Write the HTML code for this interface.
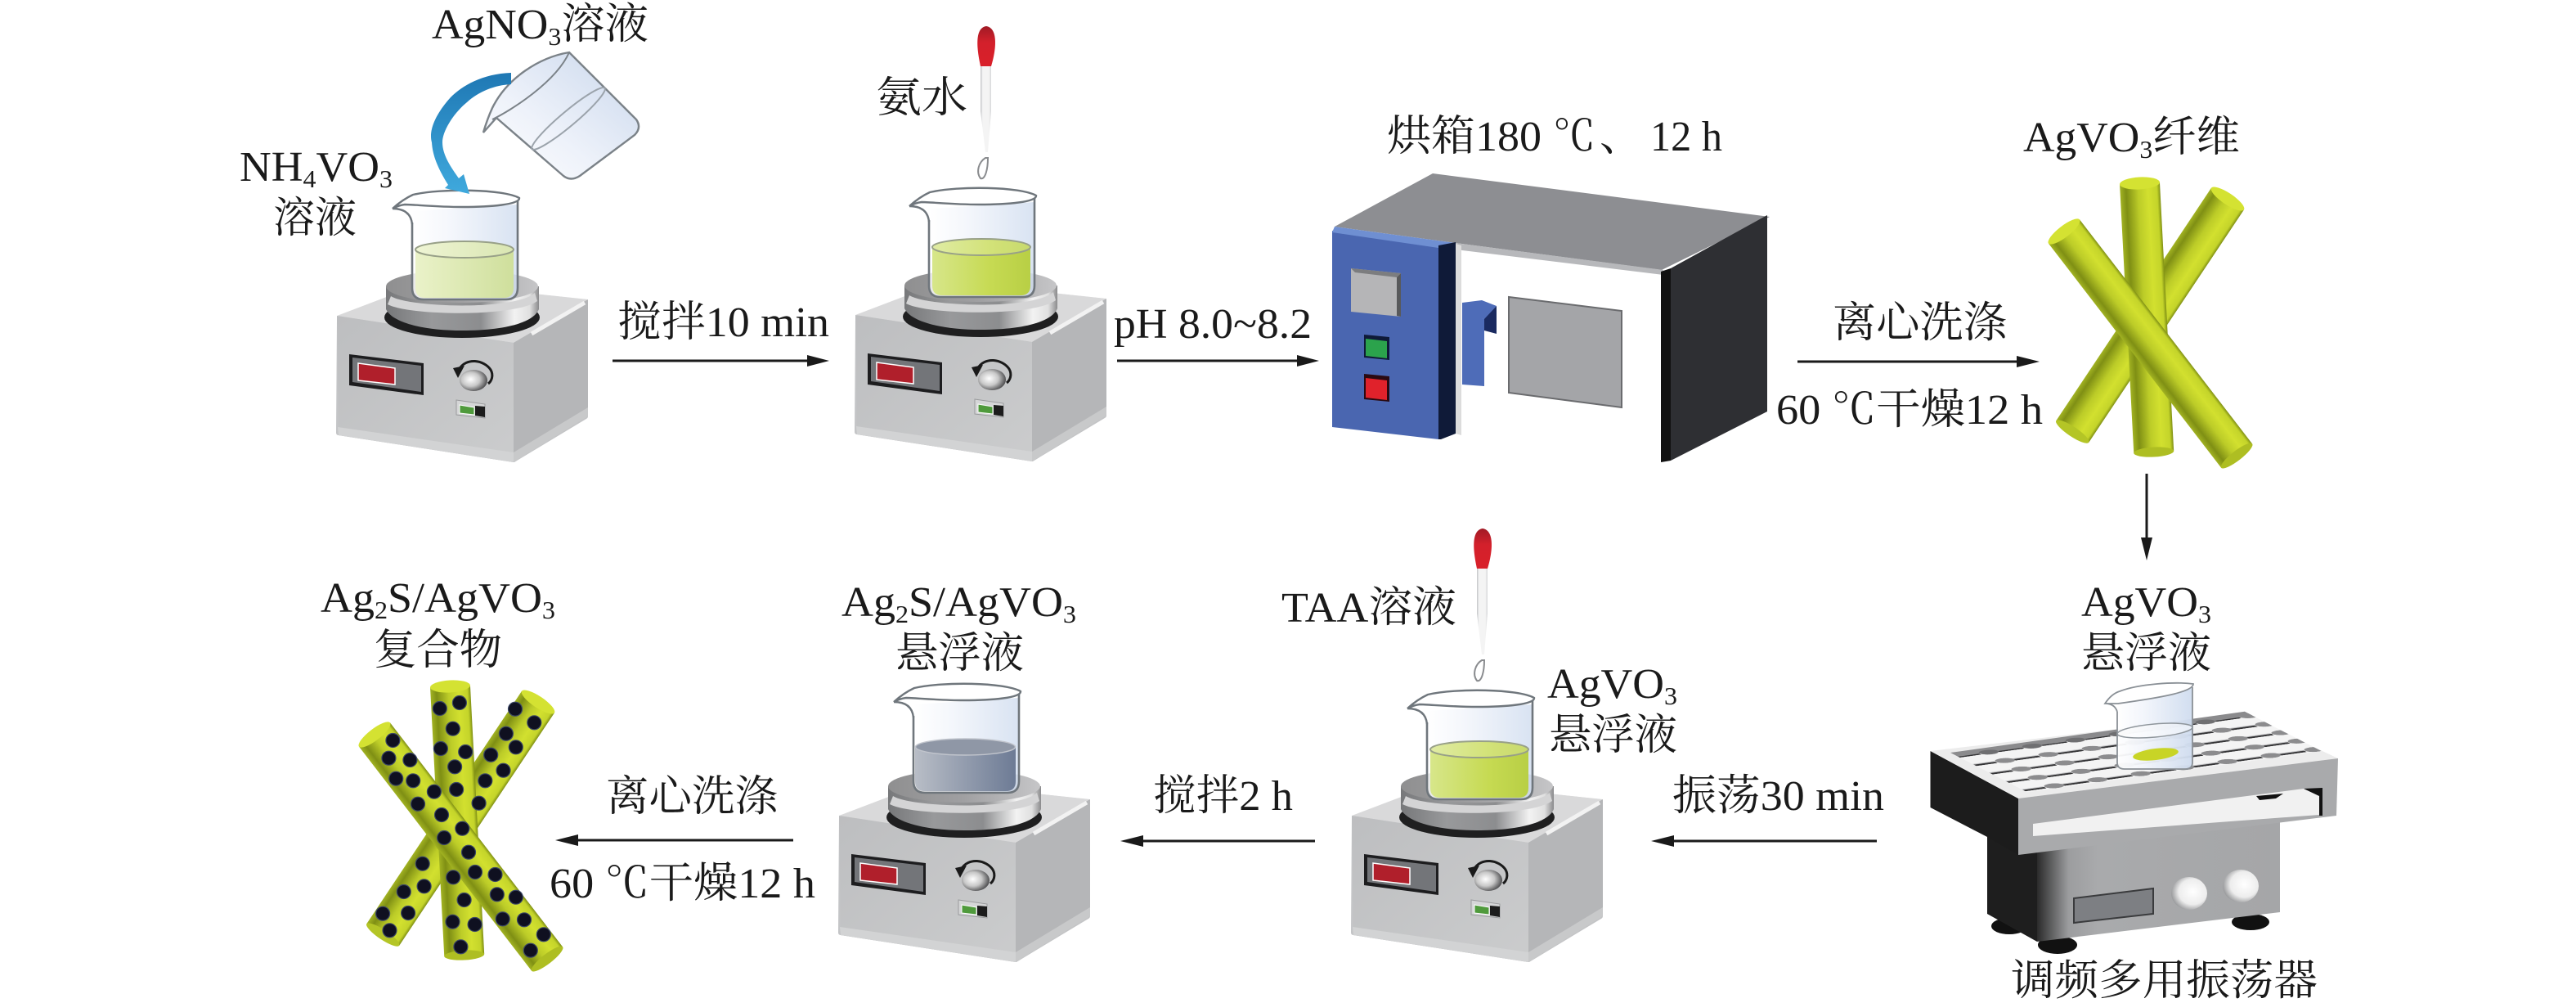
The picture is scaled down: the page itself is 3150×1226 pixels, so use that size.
<!DOCTYPE html>
<html><head><meta charset="utf-8"><style>
html,body{margin:0;padding:0;background:#fff}
svg{display:block}
text{font-family:"Liberation Serif","Noto Serif CJK SC",serif;font-size:52px;fill:#1a1a1a}
.s{font-size:31px}
</style></head><body>
<svg width="3150" height="1226" viewBox="0 0 3150 1226" xmlns="http://www.w3.org/2000/svg">
<defs>
<linearGradient id="glass" x1="0" x2="1" y1="0" y2="0"><stop offset="0" stop-color="#fff"/><stop offset=".35" stop-color="#f2f5fb"/><stop offset="1" stop-color="#cfdcef"/></linearGradient>
<linearGradient id="glass2" x1="0" x2="1" y1="1" y2="0"><stop offset="0" stop-color="#fff"/><stop offset=".4" stop-color="#eef2fa"/><stop offset="1" stop-color="#c9d7ec"/></linearGradient>
<linearGradient id="l1" x1="0" x2="1"><stop offset="0" stop-color="#eaf2c9"/><stop offset="1" stop-color="#cfdf9c"/></linearGradient>
<linearGradient id="l2" x1="0" x2="1"><stop offset="0" stop-color="#d7e68a"/><stop offset=".6" stop-color="#c6da52"/><stop offset="1" stop-color="#b8cf45"/></linearGradient>
<linearGradient id="l3" x1="0" x2="1"><stop offset="0" stop-color="#b8bdc6"/><stop offset="1" stop-color="#6d7b95"/></linearGradient>
<linearGradient id="side" x1="0" x2="1"><stop offset="0" stop-color="#77787a"/><stop offset=".3" stop-color="#98999b"/><stop offset=".62" stop-color="#8c8d8f"/><stop offset=".84" stop-color="#f2f2f2"/><stop offset=".94" stop-color="#e0e0e0"/><stop offset="1" stop-color="#8a8a8c"/></linearGradient>
<linearGradient id="ptop" x1="0" x2="1"><stop offset="0" stop-color="#8f8f90"/><stop offset=".5" stop-color="#a0a0a2"/><stop offset="1" stop-color="#c6c6c8"/></linearGradient>
<linearGradient id="lface" x1="0" x2="1" y1="0" y2="1"><stop offset="0" stop-color="#bdbec0"/><stop offset="1" stop-color="#cbcccd"/></linearGradient>
<radialGradient id="knob" cx=".4" cy=".45" r=".65"><stop offset="0" stop-color="#fff"/><stop offset=".5" stop-color="#c8c8c8"/><stop offset="1" stop-color="#3a3a3c"/></radialGradient>
<linearGradient id="blue" x1="0" x2="0" y1="0" y2="1"><stop offset="0" stop-color="#1f78b4"/><stop offset="1" stop-color="#3fa9dd"/></linearGradient>
<linearGradient id="rodg" x1="0" x2="1"><stop offset="0" stop-color="#a2b322"/><stop offset=".15" stop-color="#7f8f14"/><stop offset=".45" stop-color="#bccc28"/><stop offset=".7" stop-color="#d2e02f"/><stop offset=".92" stop-color="#c4d42a"/><stop offset="1" stop-color="#7f8f14"/></linearGradient>
<linearGradient id="bulb" x1="0" x2="0" y1="0" y2="1"><stop offset="0" stop-color="#a01a25"/><stop offset=".4" stop-color="#d3202b"/><stop offset="1" stop-color="#d9202a"/></linearGradient>
<linearGradient id="tube" x1="0" x2="1"><stop offset="0" stop-color="#c0c2c5"/><stop offset=".2" stop-color="#f4f4f4"/><stop offset=".8" stop-color="#f4f4f4"/><stop offset="1" stop-color="#d5d6d8"/></linearGradient>
<linearGradient id="body" x1="0" x2="1"><stop offset="0" stop-color="#2b2b2b"/><stop offset=".13" stop-color="#9c9d9f"/><stop offset=".25" stop-color="#a9aaac"/><stop offset="1" stop-color="#a5a6a8"/></linearGradient>
<radialGradient id="kn2" cx=".6" cy=".45" r=".6"><stop offset="0" stop-color="#fff"/><stop offset=".65" stop-color="#ededed"/><stop offset="1" stop-color="#9b9c9e"/></radialGradient>
<pattern id="well" x="0" y="0" width="14.2857" height="20" patternUnits="userSpaceOnUse">
<rect width="14.2857" height="20" fill="#f4f4f4"/>
<rect x="0" y="7" width="7" height="2" fill="#c2c2c4"/>
<rect x="13" y="7" width="1.3" height="2" fill="#c2c2c4"/>
<rect x="0" y="8.6" width="7" height="3" fill="#343436"/>
<rect x="13" y="8.6" width="1.3" height="3" fill="#343436"/>
<ellipse cx="10.2" cy="8.9" rx="3" ry="5" fill="#8c8c8e"/>
</pattern>

<g id="stirrer">
<polygon points="415,389 520,348 716,369 716,509 628,562 414,529" fill="#c4c5c7" stroke="#c4c5c7" stroke-width="6" stroke-linejoin="round"/>
<polygon points="412,386 520,345 719,366 628,419" fill="#d9d9da"/>
<polygon points="628,419 719,366 719,509 628,565" fill="#b5b6b8"/>
<polygon points="412,386 628,419 628,565 414,532" fill="url(#lface)"/>
<polygon points="413,522 628,553 628,565 414,532" fill="#d2d3d4"/>
<polygon points="628,553 719,498 719,509 628,565" fill="#c8c9ca"/>
<path d="M650,408 L715,370" stroke="#f2f2f2" stroke-width="5" fill="none"/>
<ellipse cx="565" cy="388" rx="95" ry="25" fill="#1f1f20"/>
<path d="M472,350 V378 C480,395 520,404 565,404 C615,404 652,395 659,378 V350 Z" fill="url(#side)"/>
<ellipse cx="565" cy="350" rx="93" ry="20" fill="url(#ptop)"/>
<path d="M478,362 C500,376 630,380 654,358 L657,368 C630,388 500,386 474,372 Z" fill="#d4d4d5"/>
<polygon points="427,433 518,444 518,483 427,471" fill="#1d1d1f"/>
<polygon points="431,437 515,447 515,479 431,467" fill="#737579"/>
<polygon points="438,444 483,450 483,470 438,465" fill="#b01f2b" stroke="#fff" stroke-width="1.5"/>
<ellipse cx="579" cy="465" rx="17" ry="13" fill="url(#knob)"/>
<path d="M561,452 C570,436 592,440 600,452 C604,459 601,466 597,469" fill="none" stroke="#1a1a1a" stroke-width="3"/>
<polygon points="554,450 568,447 560,462" fill="#1a1a1a"/>
<polygon points="558,489 593,494 593,511 558,507" fill="#d5d6d7" stroke="#9a9b9d"/>
<polygon points="562,495 580,498 580,507 562,505" fill="#4f9a3c" stroke="#fff"/>
<polygon points="581,496 593,497 593,510 581,508" fill="#1c1c1c"/>
</g>

<path id="liq" d="M508,305 A60,10 0 0 1 628,305 V352 Q628,364 616,364 H520 Q508,364 508,352 Z"/>
<g id="beaker">
<path d="M504,258 V352 Q504,366 518,366 H619 Q633,366 633,352 V250 Z" fill="url(#glass)" fill-opacity=".8"/>
<path d="M504,272 V352 Q504,366 518,366 H619 Q633,366 633,352 V243" fill="none" stroke="#6f767c" stroke-width="2.6"/>
<path d="M480,255 Q502,255 504,274" fill="none" stroke="#6f767c" stroke-width="2.4"/>
<path d="M480,255 Q492,244 505,238 C540,230 615,231 635,242 C636,250 600,253 565,253 C535,253 505,250 495,250 Q487,251 480,255 Z" fill="#fff" stroke="#6f767c" stroke-width="2.4"/>
</g>
<g id="liqtop">
<ellipse cx="568" cy="305" rx="60" ry="10" fill="#fff" fill-opacity=".22" stroke="#98a088" stroke-width="2"/>
</g>

<g id="dropper">
<path d="M1806,695 L1819,695 L1819,750 L1815,800 L1812,800 L1806,750 Z" fill="url(#tube)"/>
<path d="M1806,695 C1801,672 1799,648 1813,646 C1827,648 1826,672 1819,695 Z" fill="url(#bulb)"/>
<path d="M1812,807 C1804,812 1800,824 1806,832 C1812,834 1815,820 1815,807 Z" fill="#fff" stroke="#8a8c8f" stroke-width="2"/>
</g>

<g id="fibers">
<g transform="translate(2724,243) rotate(33.7)">
<rect x="-24" y="0" width="48" height="342" fill="url(#rodg)"/><ellipse cx="0" cy="342" rx="24" ry="6" fill="#b4c526"/><ellipse cx="0" cy="0" rx="24" ry="7" fill="#d4e232"/></g>
<g transform="translate(2616.5,224) rotate(-3)">
<rect x="-24.5" y="0" width="49" height="329" fill="url(#rodg)"/><ellipse cx="0" cy="329" rx="24.5" ry="6" fill="#aebe22"/><ellipse cx="0" cy="0" rx="24.5" ry="7.5" fill="#d4e232"/></g>
<g transform="translate(2524,283) rotate(-37.6)">
<rect x="-24" y="0" width="48" height="346" fill="url(#rodg)"/><ellipse cx="0" cy="346" rx="24" ry="6" fill="#aebe22"/><ellipse cx="0" cy="0" rx="24" ry="7" fill="#d4e232"/></g>
</g>
</defs>

<!-- top-left stirrer -->
<use href="#stirrer"/>
<use href="#beaker"/>
<use href="#liq" fill="url(#l1)"/>
<use href="#liqtop"/>
<!-- second stirrer -->
<use href="#stirrer" transform="translate(634,-1)"/>
<g transform="translate(632,-3)">
<use href="#beaker"/>
<use href="#liq" fill="url(#l2)"/>
<use href="#liqtop"/>
</g>
<!-- bottom stirrers -->
<use href="#stirrer" transform="translate(1241,611)"/>
<g transform="translate(1241,611)">
<use href="#beaker"/>
<use href="#liq" fill="url(#l2)"/>
<use href="#liqtop"/>
</g>
<use href="#stirrer" transform="translate(614,611)"/>
<use href="#beaker" transform="translate(613,603)"/>
<path d="M1119,913 A61,10 0 0 1 1242,913 V955 Q1242,967 1230,967 H1131 Q1119,967 1119,955 Z" fill="url(#l3)"/>
<ellipse cx="1180.5" cy="913" rx="61" ry="10" fill="#8f97a6" stroke="#c0c4cc" stroke-width="1.5"/>

<!-- droppers -->
<use href="#dropper"/>
<use href="#dropper" transform="translate(-607,-614)"/>

<!-- pouring beaker -->
<path d="M696,64 L778,146 Q785,156 776,165 L709,215 Q698,222 689,215 L607,144 L591,162 Q596,145 602,132 C620,95 660,70 696,64 Z" fill="url(#glass2)" stroke="#7b8288" stroke-width="2.4"/>
<path d="M602,146 C625,135 680,100 696,64" fill="none" stroke="#7b8288" stroke-width="2"/>
<ellipse cx="695" cy="145" rx="58" ry="9" transform="rotate(-40 695 145)" fill="none" stroke="#9ba3ab" stroke-width="2"/>

<!-- blue arrow -->
<path d="M625,89 C590,90 565,105 551,119 C532,140 524,160 528,174 C529,190 535,205 548,226 L544,230 L574,237 L567,213 L561,218 C552,205 541,190 541,174 C541,160 555,138 571,125 C585,112 605,104 625,103 Z" fill="url(#blue)"/>

<!-- oven -->
<polygon points="1752,212 2164,265 2032,330 1780,297 1632,277" fill="#8d8e92"/>
<polygon points="1780,297 2034,330 2034,336 1780,305" fill="#b7b8bb"/>
<polygon points="2043,328 2161,263 2161,503 2043,563" fill="#2e2f33"/>
<polygon points="2031,332 2043,328 2043,563 2031,565" fill="#111"/>
<polygon points="1629,282 1759,300 1759,537 1629,522" fill="#4a66b0"/>
<polygon points="1632,277 1780,297 1759,303 1629,284" fill="#6f8fd2"/>
<polygon points="1759,300 1780,296 1780,530 1762,537 1759,537" fill="#0f1a38"/>
<polygon points="1780,298 1787,300 1787,532 1780,530" fill="#dcdcdc"/>
<polygon points="1652,328 1713,334 1713,387 1652,381" fill="#b5b5b7"/>
<polygon points="1652,328 1713,334 1708,339 1657,333" fill="#7c7d7f"/>
<polygon points="1708,339 1713,334 1713,387 1708,386" fill="#58595b"/>
<polygon points="1668,409 1699,412 1699,440 1668,437" fill="#0f1a38"/>
<polygon points="1670,414 1696,417 1696,438 1670,435" fill="#2ba34c"/>
<polygon points="1668,457 1699,460 1699,491 1668,488" fill="#2a0a12"/>
<polygon points="1670,462 1696,465 1696,489 1670,486" fill="#e0222b"/>
<polygon points="1815,388 1830,374 1830,408 1815,404" fill="#1a2a60"/>
<polygon points="1788,370 1812,367 1830,374 1815,390 1788,388" fill="#4e6cb8"/>
<polygon points="1788,385 1815,390 1815,472 1788,470" fill="#4e6cb8"/>
<polygon points="1845,363 1983,380 1983,498 1845,480" fill="#a4a5a8" stroke="#6a6b6e" stroke-width="2"/>

<!-- fibers -->
<use href="#fibers"/>
<use href="#fibers" transform="translate(-2066,615)"/>
<g fill="#0f1020" stroke="#3b4766" stroke-width="1.2">
<circle cx="480.4" cy="905" r="8.5"/><circle cx="475.4" cy="926.7" r="8.5"/><circle cx="501.4" cy="929" r="8.5"/><circle cx="484.2" cy="951.7" r="8.5"/><circle cx="505.2" cy="954.3" r="8.5"/><circle cx="530.9" cy="967.7" r="8.5"/><circle cx="511" cy="982.7" r="8.5"/><circle cx="540" cy="996" r="8.5"/><circle cx="565.3" cy="1012.7" r="8.5"/><circle cx="543.1" cy="1024" r="8.5"/><circle cx="573" cy="1041.7" r="8.5"/><circle cx="581" cy="1066" r="8.5"/><circle cx="605.5" cy="1069" r="8.5"/><circle cx="607.8" cy="1093.3" r="8.5"/><circle cx="630.8" cy="1096.7" r="8.5"/><circle cx="614.7" cy="1123.3" r="8.5"/><circle cx="641" cy="1124.3" r="8.5"/><circle cx="664.8" cy="1142.3" r="8.5"/><circle cx="648.8" cy="1161.7" r="8.5"/>
<circle cx="561.9" cy="859" r="8.5"/><circle cx="537.8" cy="866" r="8.5"/><circle cx="553.8" cy="890.7" r="8.5"/><circle cx="538.9" cy="915" r="8.5"/><circle cx="569.2" cy="919" r="8.5"/><circle cx="556.1" cy="937.3" r="8.5"/><circle cx="558.1" cy="965" r="8.5"/><circle cx="554.2" cy="1072.3" r="8.5"/><circle cx="567.6" cy="1100" r="8.5"/><circle cx="553.5" cy="1126.7" r="8.5"/><circle cx="580.6" cy="1130" r="8.5"/><circle cx="563.4" cy="1157.3" r="8.5"/>
<circle cx="630" cy="866.7" r="8.5"/><circle cx="653.3" cy="883.3" r="8.5"/><circle cx="618.9" cy="896.7" r="8.5"/><circle cx="630.8" cy="913.3" r="8.5"/><circle cx="600.2" cy="922.7" r="8.5"/><circle cx="615.5" cy="941.7" r="8.5"/><circle cx="593.3" cy="954.3" r="8.5"/><circle cx="585.6" cy="981.7" r="8.5"/><circle cx="516.7" cy="1055.7" r="8.5"/><circle cx="518.6" cy="1083.3" r="8.5"/><circle cx="493.8" cy="1090" r="8.5"/><circle cx="468.1" cy="1116.7" r="8.5"/><circle cx="499.1" cy="1116" r="8.5"/><circle cx="476.5" cy="1137.3" r="8.5"/>
</g>

<!-- shaker -->
<ellipse cx="2457" cy="1132" rx="22" ry="10" fill="#111"/>
<ellipse cx="2752" cy="1127" rx="23" ry="10" fill="#111"/>
<ellipse cx="2516" cy="1155" rx="24" ry="11" fill="#111"/>
<polygon points="2430,1000 2491,1030 2491,1151 2430,1117" fill="#1e1e1e"/>
<polygon points="2491,1030 2788,990 2788,1115 2491,1151" fill="url(#body)"/>
<polygon points="2536,1098 2633,1086 2633,1117 2536,1128" fill="#7d7f83" stroke="#3a3b3d" stroke-width="2"/>
<ellipse cx="2677" cy="1092" rx="22" ry="20" fill="url(#kn2)"/>
<ellipse cx="2740" cy="1083" rx="22" ry="20" fill="url(#kn2)"/>
<polygon points="2360.5,918 2468,976 2468,1045 2430,1023 2360.5,987" fill="#1c1c1c"/>
<polygon points="2360.5,918 2744,873 2859,927 2468,976" fill="#ececec"/>
<polygon points="2468,976 2859,927 2857,997 2468,1045" fill="#a9aaac"/>
<polygon points="2486,1007 2817,964 2836,973 2836,996 2486,1022" fill="#f1f1f1"/>
<polygon points="2817,964 2840,963 2840,997 2836,997 2836,973" fill="#111"/>
<polygon points="2759,973 2792,970 2783,976 2763,978" fill="#111"/>
<g transform="matrix(3.71,-.518,1,.515,2385,920)">
<rect width="97" height="94" fill="url(#well)"/>
<rect width="97" height="9.5" fill="#8b8b8d"/>
<g fill="#6f6f71"><ellipse cx="10.2" cy="8.9" rx="3" ry="4.5"/><ellipse cx="24.5" cy="8.9" rx="3" ry="4.5"/><ellipse cx="38.8" cy="8.9" rx="3" ry="4.5"/><ellipse cx="53" cy="8.9" rx="3" ry="4.5"/><ellipse cx="67.3" cy="8.9" rx="3" ry="4.5"/><ellipse cx="81.6" cy="8.9" rx="3" ry="4.5"/></g>
</g>

<!-- shaker beaker -->
<path d="M2589,861 V932 Q2589,940 2598,940 H2672 Q2681,940 2681,932 V840 Z" fill="url(#glass)" fill-opacity=".95"/>
<path d="M2589,870 V932 Q2589,940 2598,940 H2672 Q2681,940 2681,932 V840" fill="none" stroke="#8a9096" stroke-width="1.8"/>
<path d="M2574,860 Q2582,848 2592,845 C2615,836 2660,833 2682,836 C2682,846 2640,853 2590,860 Q2580,860 2574,860 Z M2574,860 Q2586,860 2589,870" fill="#fff" stroke="#8a9096" stroke-width="1.8"/>
<ellipse cx="2635" cy="893" rx="46" ry="8" fill="#fff" fill-opacity=".5" stroke="#8f969c" stroke-width="1.5" transform="rotate(-5 2635 893)"/>
<ellipse cx="2636" cy="922" rx="28" ry="7" fill="#c8d426" transform="rotate(-7 2636 922)"/>

<!-- arrows -->
<g stroke="#1a1a1a" stroke-width="3" fill="#1a1a1a">
<path d="M749,441 H990"/><polygon stroke="none" points="1014,441 987,434 987,448"/>
<path d="M1366,441 H1590"/><polygon stroke="none" points="1613,441 1586,434 1586,448"/>
<path d="M2198,442 H2470"/><polygon stroke="none" points="2494,442 2466,435 2466,449"/>
<path d="M2625,579 V660"/><polygon stroke="none" points="2625,685 2618,657 2632,657"/>
<path d="M2295,1028 H2045"/><polygon stroke="none" points="2019,1028 2047,1021 2047,1035"/>
<path d="M1608,1028 H1395"/><polygon stroke="none" points="1370,1028 1398,1021 1398,1035"/>
<path d="M970,1027 H705"/><polygon stroke="none" points="679,1027 707,1020 707,1034"/>
</g>

<!-- labels -->
<text x="528" y="47" textLength="265" lengthAdjust="spacingAndGlyphs">AgNO<tspan class="s" dy="8">3</tspan><tspan dy="-8">溶液</tspan></text>
<text x="293" y="221" textLength="187" lengthAdjust="spacingAndGlyphs">NH<tspan class="s" dy="8">4</tspan><tspan dy="-8">VO</tspan><tspan class="s" dy="8">3</tspan></text>
<text x="334" y="284" textLength="102" lengthAdjust="spacingAndGlyphs">溶液</text>
<text x="755" y="411" textLength="259" lengthAdjust="spacingAndGlyphs">搅拌10 min</text>
<text x="1071" y="137" textLength="112" lengthAdjust="spacingAndGlyphs">氨水</text>
<text x="1362" y="413" textLength="242" lengthAdjust="spacingAndGlyphs">pH 8.0~8.2</text>
<text x="1696" y="184" textLength="189" lengthAdjust="spacingAndGlyphs">烘箱180</text>
<text x="1899" y="184" textLength="52" lengthAdjust="spacingAndGlyphs">℃</text>
<text x="1956" y="184">、</text>
<text x="2018" y="184" textLength="88" lengthAdjust="spacingAndGlyphs">12 h</text>
<text x="2474" y="185" textLength="265" lengthAdjust="spacingAndGlyphs">AgVO<tspan class="s" dy="8">3</tspan><tspan dy="-8">纤维</tspan></text>
<text x="2241" y="412" textLength="213" lengthAdjust="spacingAndGlyphs">离心洗涤</text>
<text x="2172" y="518" textLength="326" lengthAdjust="spacingAndGlyphs">60 ℃干燥12 h</text>
<text x="2545" y="753" textLength="159" lengthAdjust="spacingAndGlyphs">AgVO<tspan class="s" dy="8">3</tspan></text>
<text x="2545" y="816" textLength="159" lengthAdjust="spacingAndGlyphs">悬浮液</text>
<text x="2459" y="1216" textLength="375" lengthAdjust="spacingAndGlyphs">调频多用振荡器</text>
<text x="2045" y="990" textLength="259" lengthAdjust="spacingAndGlyphs">振荡30 min</text>
<text x="1892" y="853" textLength="159" lengthAdjust="spacingAndGlyphs">AgVO<tspan class="s" dy="8">3</tspan></text>
<text x="1894" y="916" textLength="157" lengthAdjust="spacingAndGlyphs">悬浮液</text>
<text x="1567" y="760" textLength="214" lengthAdjust="spacingAndGlyphs">TAA溶液</text>
<text x="1410" y="990" textLength="171" lengthAdjust="spacingAndGlyphs">搅拌2 h</text>
<text x="1029" y="753" textLength="287" lengthAdjust="spacingAndGlyphs">Ag<tspan class="s" dy="8">2</tspan><tspan dy="-8">S/AgVO</tspan><tspan class="s" dy="8">3</tspan></text>
<text x="1095" y="816" textLength="157" lengthAdjust="spacingAndGlyphs">悬浮液</text>
<text x="392" y="748" textLength="287" lengthAdjust="spacingAndGlyphs">Ag<tspan class="s" dy="8">2</tspan><tspan dy="-8">S/AgVO</tspan><tspan class="s" dy="8">3</tspan></text>
<text x="457" y="812" textLength="157" lengthAdjust="spacingAndGlyphs">复合物</text>
<text x="741" y="991" textLength="210" lengthAdjust="spacingAndGlyphs">离心洗涤</text>
<text x="672" y="1097" textLength="325" lengthAdjust="spacingAndGlyphs">60 ℃干燥12 h</text>
</svg>
</body></html>
